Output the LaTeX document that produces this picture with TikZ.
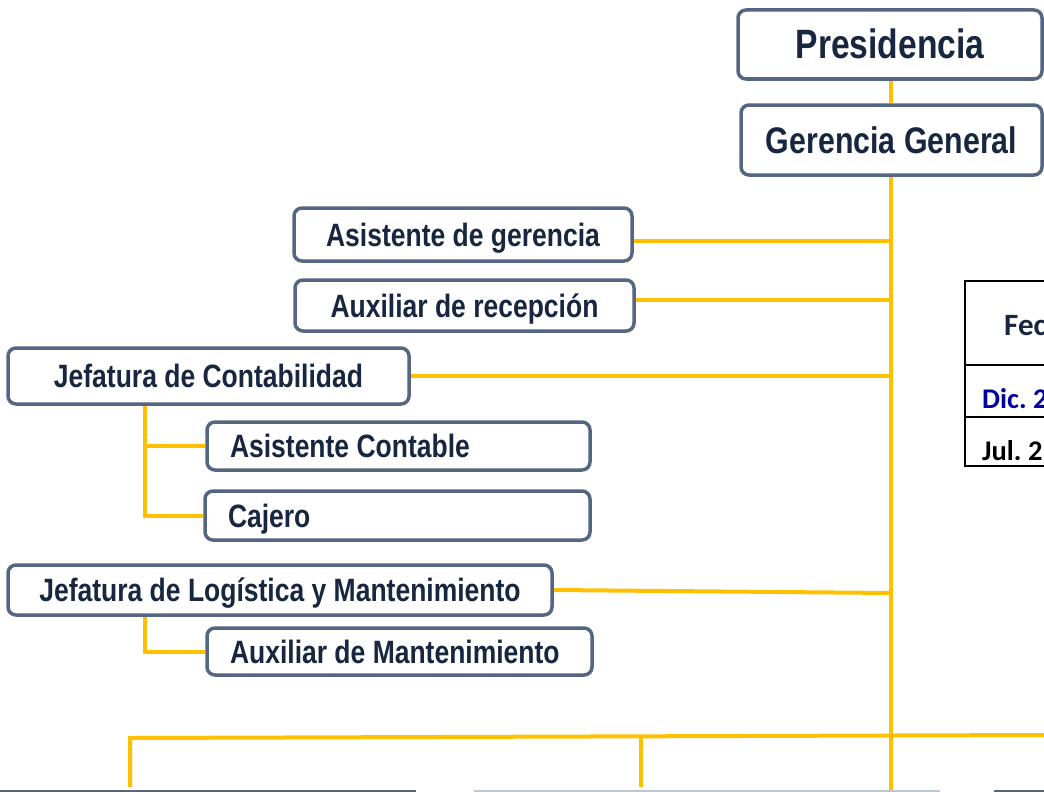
\documentclass[tikz,border=0pt]{standalone}
\usepackage{fontspec}
\setmainfont{Liberation Sans}[FakeStretch=0.82]
\newfontfamily\tabfont{Carlito}
\definecolor{boxc}{RGB}{84,102,130}
\definecolor{txtc}{RGB}{24,38,64}
\definecolor{linec}{RGB}{255,192,0}
\definecolor{dicc}{RGB}{0,0,160}
\definecolor{grayd}{RGB}{90,102,120}
\definecolor{grayl}{RGB}{190,198,206}
\pgfdeclarelayer{bg}
\pgfsetlayers{bg,main}
\tikzset{
  box/.style={draw=boxc, line width=3.5pt, rounded corners=8pt, fill=white,
    text=txtc, font=\bfseries\fontsize{32.3}{36}\selectfont, inner sep=0pt, align=center,
    text height=23pt, text depth=0pt},
  lbox/.style={box, align=flush left, inner xsep=23pt},
  conn/.style={draw=linec, line width=4pt},
  tabtxt/.style={font=\tabfont\bfseries\fontsize{28.5}{33}\selectfont, inner sep=0pt, anchor=west}
}
\begin{document}
\begin{tikzpicture}[x=1pt,y=-1pt]
\useasboundingbox (0,0) rectangle (1044,792);
\clip (0,0) rectangle (1044,792);
% boxes
\node[box, minimum width=304pt, minimum height=69pt, font=\bfseries\fontsize{41}{46}\selectfont, text height=29pt] (pres) at (890,44.5) {Presidencia};
\node[box, minimum width=301pt, minimum height=70pt, font=\bfseries\fontsize{37}{42}\selectfont, text height=26.5pt, yshift=-2pt] (gg) at (891.5,138) {Gerencia General};
\node[box, minimum width=338pt, minimum height=53pt] (ag) at (463,234.5) {Asistente de gerencia};
\node[box, minimum width=339pt, minimum height=51pt] (ar) at (464.5,305.5) {Auxiliar de recepción};
\node[box, minimum width=401pt, minimum height=56pt] (jc) at (208.5,376) {Jefatura de Contabilidad};
\node[lbox, text width=337pt, minimum height=48pt] (ac) at (398.5,446) {Asistente Contable};
\node[lbox, text width=339pt, minimum height=49pt] (caj) at (397.5,515.5) {Cajero};
\node[box, minimum width=544pt, minimum height=50pt] (jl) at (280,590) {Jefatura de Logística y Mantenimiento};
\node[lbox, text width=339pt, minimum height=47pt] (am) at (399.5,651.5) {Auxiliar de Mantenimiento};
% coordinates
\coordinate (trunk) at (891,0);
\coordinate (sub) at (145,0);
\coordinate (bot) at (891,792);
\coordinate (busL) at (130,738);
\coordinate (busM) at (641,737);
\coordinate (busR) at (1044,735);
\coordinate (dropL) at (130,787);
\coordinate (dropM) at (641,787);
\begin{pgfonlayer}{bg}
\draw[conn] (trunk |- pres.south) -- (trunk |- gg.north);
\draw[conn] (trunk |- gg.south) -- (bot);
\draw[conn] ([yshift=-6.5pt]ag.east) -- ([yshift=-6.5pt]ag.east -| trunk);
\draw[conn] ([yshift=5.5pt]ar.east) -- ([yshift=5.5pt]ar.east -| trunk);
\draw[conn] (jc.east) -- (jc.east -| trunk);
\draw[conn] (jl.east) -- ([yshift=-3pt]jl.east -| trunk);
\draw[conn] (sub |- jc.south) |- (ac.west);
\draw[conn] (sub |- jc.south) |- (caj.west);
\draw[conn] (sub |- jl.south) |- (am.west);
\draw[conn] (dropL) -- (busL) -- (busR);
\draw[conn] (dropM) -- (busM);
\end{pgfonlayer}
% table
\draw[black, line width=2pt] (1050,281) -- (965,281) -- (965,466) -- (1050,466);
\draw[black, line width=2pt] (965,365) -- (1050,365);
\draw[black, line width=2pt] (965,417) -- (1050,417);
\node[tabtxt, text=txtc, font=\tabfont\bfseries\fontsize{31}{36}\selectfont] (fec) at (1004,326) {Fec};
\node[tabtxt, text=dicc] (dic) at (982,399) {Dic.\ 2};
\node[tabtxt, text=black] (jul) at (982,451) {Jul.\ 2};
% cut-off boxes at bottom edge
\draw[grayd, line width=3pt] (0,791.5) -- (416,791.5);
\draw[grayl, line width=3pt] (474,791.5) -- (940,791.5);
\draw[grayd, line width=3pt] (994,791.5) -- (1044,791.5);
\end{tikzpicture}
\end{document}
